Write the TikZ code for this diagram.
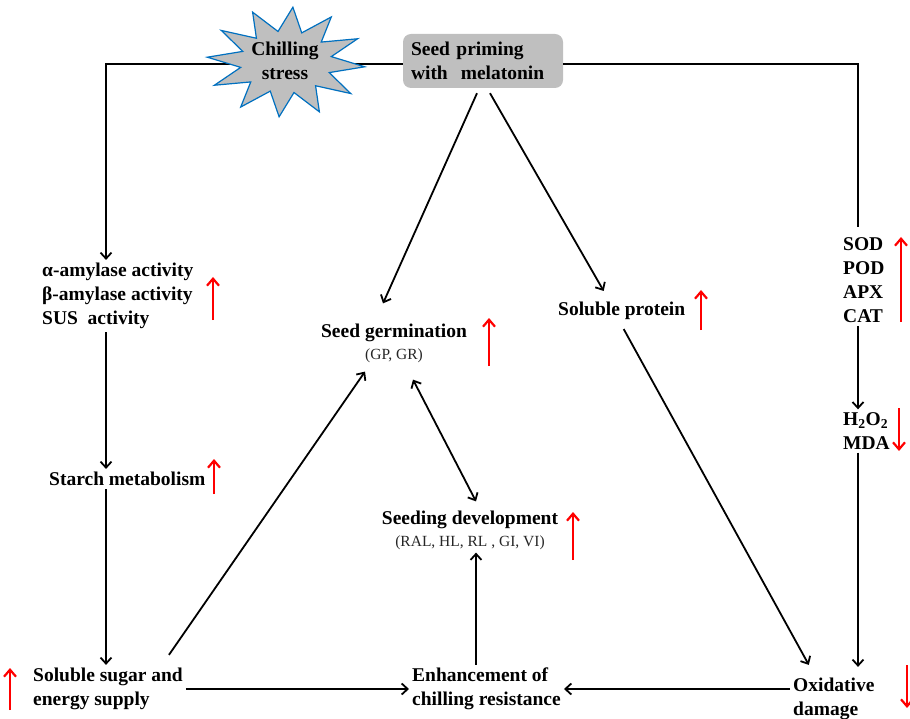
\documentclass[tikz,border=0pt]{standalone}
\usepackage{fontspec}
\setmainfont{Liberation Serif}
\usetikzlibrary{arrows.meta}
\definecolor{boxgray}{RGB}{191,191,191}
\definecolor{starblue}{RGB}{0,112,192}
\tikzset{
  lbl/.style={font=\fontsize{19.5}{24}\selectfont\bfseries, align=left, inner sep=3pt},
  arr/.style={line width=1.8pt, -{Straight Barb[length=6pt,width=11pt]}},
  dblarr/.style={line width=1.8pt, {Straight Barb[length=6pt,width=11pt]}-{Straight Barb[length=6pt,width=11pt]}},
  trend/.style={red, line width=2.2pt, -{Straight Barb[length=7pt,width=12pt]}},
}
\newcommand{\subtxt}{\fontsize{15.5}{18}\selectfont\mdseries\color{black!85}}
\begin{document}
\begin{tikzpicture}[x=1pt,y=-1pt]
	\useasboundingbox (0,0) rectangle (910,719);
	% esquinas de la linea superior
	\coordinate (cornerL) at (106,64);
	\coordinate (cornerR) at (858,64);
	
	% tratamiento
	\node[lbl, fill=boxgray, rounded corners=8pt, text width=144pt, minimum height=54pt, inner xsep=8pt] (prime) at (483,61) {Seed priming\\with\ \ melatonin};
	
	% textos
	\node[lbl, anchor=west] (amyl) at (39,296) {α-amylase activity\\β-amylase activity\\SUS\ \ activity};
	\node[lbl, anchor=west] (starch) at (46,479) {Starch metabolism};
	\node[lbl, anchor=west] (sugar) at (30,689) {Soluble sugar and\\energy supply};
	\node[lbl, anchor=west] (enh) at (409,689) {Enhancement of\\chilling resistance};
	\node[lbl, anchor=west] (oxi) at (790,699) {Oxidative\\damage};
	\node[lbl, align=center] (germ) at (394,343) {Seed germination\\[-2pt]{\subtxt (GP, GR)}};
	\node[lbl, align=center] (dev) at (470,530) {Seeding development\\[-2pt]{\subtxt (RAL, HL, RL , GI, VI)}};
	\node[lbl, anchor=west] (prot) at (555,311) {Soluble protein};
	\node[lbl, anchor=west] (sod) at (840,280) {SOD\\POD\\APX\\CAT};
	\node[lbl, anchor=west] (hperox) at (840,431) {H\textsubscript{2}O\textsubscript{2}\\MDA};
	
	% rama izquierda
	\draw[arr] (prime.west |- cornerL) -- (cornerL) -- (cornerL |- amyl.north);
	\draw[arr] (cornerL |- amyl.south) -- (cornerL |- starch.north);
	\draw[arr] (cornerL |- starch.south) -- (cornerL |- sugar.north);
	\draw[arr] (sugar.east) -- (enh.west);
	\draw[arr] ([shift={(-17,-10)}]sugar.north east) -- ([shift={(-29,6)}]germ.south);
	
	% rama central
	\draw[arr] ([shift={(-6,5)}]prime.south) -- ([shift={(-11,-17)}]germ.north);
	\draw[arr] ([shift={(7,5)}]prime.south) -- ([shift={(-18,-8)}]prot.north);
	\draw[dblarr] ([shift={(19,14)}]germ.south) -- ([shift={(6,-6)}]dev.north);
	\draw[arr] ([xshift=6pt]dev.south |- enh.north) -- ([xshift=6pt]dev.south);
	\draw[arr] ([shift={(2,6)}]prot.south) -- ([shift={(-25,-10)}]oxi.north);
	
	% rama derecha
	\draw[line width=1.8pt, shorten >=7pt] (prime.east |- cornerR) -- (cornerR) -- (cornerR |- sod.north);
	\draw[arr] (cornerR |- sod.south) -- (cornerR |- hperox.north);
	\draw[arr, shorten >=8pt] (cornerR |- hperox.south) -- (cornerR |- oxi.north);
	\draw[arr] (oxi.west |- enh.east) -- (enh.east);
	
	% estres por frio
	\filldraw[fill=boxgray, draw=starblue, line width=1.2pt] plot[samples at={0,...,23}, variable=\k] ({286+ifthenelse(mod(\k,2)==0,79,46)*cos(15*\k+5)}, {62+ifthenelse(mod(\k,2)==0,55,31)*sin(15*\k+5)}) -- cycle;
	\node[lbl, align=center, inner sep=0pt] (stress) at (285,61) {Chilling\\stress};
	
	% flechas de tendencia
	\draw[trend] (213,320) -- (213,277);
	\draw[trend] (214,494) -- (214,459);
	\draw[trend] (10,710) -- (10,668);
	\draw[trend] (489,366) -- (489,318);
	\draw[trend] (573,560) -- (573,512);
	\draw[trend] (701,330) -- (701,290);
	\draw[trend] (901,322) -- (901,237);
	\draw[trend] (899,408) -- (899,451);
	\draw[trend] (907,665) -- (907,708);
	
\end{tikzpicture}
\end{document}
